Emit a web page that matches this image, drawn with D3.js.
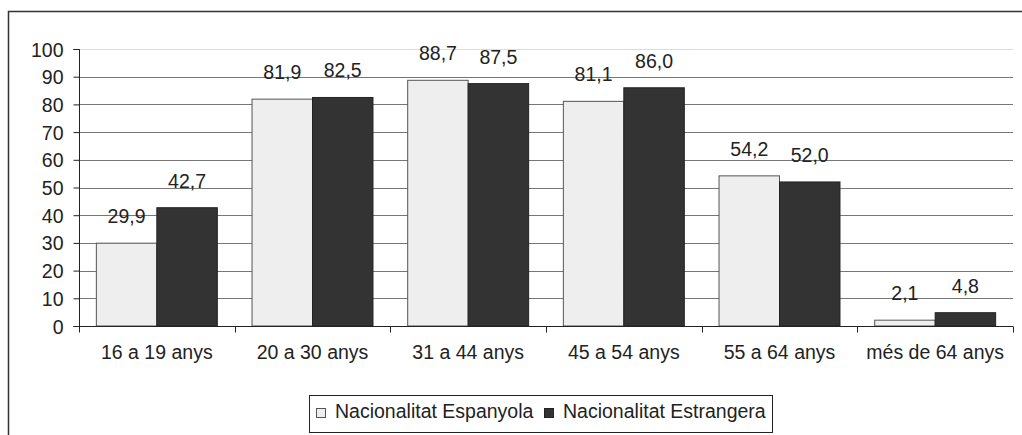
<!DOCTYPE html>
<html>
<head>
<meta charset="utf-8">
<script src="https://cdn.jsdelivr.net/npm/d3@7"></script>
<style>
html,body{margin:0;padding:0;background:#fff;}
svg{display:block;font-family:"Liberation Sans",Arial,sans-serif;}
</style>
</head>
<body>
<svg id="chart" width="1022" height="435"></svg>
<script>
const categories = ["16 a 19 anys","20 a 30 anys","31 a 44 anys","45 a 54 anys","55 a 64 anys","més de 64 anys"];
const seriesNames = ["Nacionalitat Espanyola","Nacionalitat Estrangera"];
const espanyola = [29.9, 81.9, 88.7, 81.1, 54.2, 2.1];
const estrangera = [42.7, 82.5, 87.5, 86.0, 52.0, 4.8];
const yTicks = [0,10,20,30,40,50,60,70,80,90,100];
const colors = ["#eeeeee","#333333"];
const strokes = ["#555555","#222222"];
const FS = 19.5;

const svg = d3.select("#chart");
const fmt = v => v.toFixed(1).replace(".", ",");

// outer frame (left and top only visible)
svg.append("path").attr("d","M8.5,440 V11.5 H1030")
  .attr("fill","none").attr("stroke","#333").attr("stroke-width",1.5);

const x0 = d3.scaleBand().domain(categories).range([79, 1013]).paddingInner(0).paddingOuter(0);
const y = d3.scaleLinear().domain([0,100]).range([326, 49]);
const x1 = d3.scaleBand().domain([0,1]).range([0, x0.bandwidth()]).paddingOuter(0.287).paddingInner(0);

// gridlines
svg.append("g").selectAll("line").data(yTicks.filter(t=>t>0)).join("line")
  .attr("x1",79).attr("x2",1013)
  .attr("y1",d=>Math.round(y(d))+0.5).attr("y2",d=>Math.round(y(d))+0.5)
  .attr("stroke",d=> d===100 ? "#dddddd" : "#777777").attr("stroke-width",1);

// bars
const data = categories.map((c,i)=>({c, vals:[espanyola[i], estrangera[i]]}));
const g = svg.append("g");
data.forEach(d=>{
  d.vals.forEach((v,s)=>{
    const bx = x0(d.c) + x1(s);
    g.append("rect")
      .attr("x", bx).attr("y", y(v))
      .attr("width", x1.bandwidth()).attr("height", y(0)-y(v))
      .attr("fill", colors[s]).attr("stroke", strokes[s]).attr("stroke-width",1);
    g.append("text")
      .attr("x", bx + x1.bandwidth()/2).attr("y", y(v) - 20)
      .attr("text-anchor","middle").attr("font-size",FS).attr("fill","#222")
      .text(fmt(v));
  });
});

// y axis
const yAxis = d3.axisLeft(y).tickValues(yTicks).tickSize(6).tickPadding(10);
const ya = svg.append("g").attr("transform","translate(79.5,0)").call(yAxis);
ya.select(".domain").attr("stroke","#222").attr("d","M-6,326.5H0V49.5H-6");
ya.selectAll(".tick line").attr("stroke","#222");
ya.selectAll(".tick text").attr("font-size",FS).attr("fill","#222")
  .attr("font-family","Liberation Sans, Arial, sans-serif").attr("dy","0.36em");

// x axis
const xa = svg.append("g").attr("transform","translate(0,326.5)");
xa.append("line").attr("x1",79).attr("x2",1013).attr("stroke","#222");
const bounds = categories.map(c=>x0(c)).concat([x0.range()[1]]);
xa.selectAll("line.t").data(bounds).join("line").attr("class","t")
  .attr("x1",d=>Math.round(d)+0.5).attr("x2",d=>Math.round(d)+0.5).attr("y1",0).attr("y2",6).attr("stroke","#222");
xa.selectAll("text").data(categories).join("text")
  .attr("x",d=>x0(d)+x0.bandwidth()/2).attr("y",32.5)
  .attr("text-anchor","middle").attr("font-size",FS).attr("fill","#222").text(d=>d);

// legend
const lg = svg.append("g");
lg.append("rect").attr("x",309.5).attr("y",395.5).attr("width",463).attr("height",37)
  .attr("fill","#fff").attr("stroke","#222");
const items = [{x:316, tx:335, name:seriesNames[0], s:0},{x:544, tx:563, name:seriesNames[1], s:1}];
items.forEach(it=>{
  lg.append("rect").attr("x",it.x+0.5).attr("y",408.5).attr("width",9).attr("height",9)
    .attr("fill",colors[it.s]).attr("stroke",strokes[it.s]);
  lg.append("text").attr("x",it.tx).attr("y",417.5).attr("font-size",FS).attr("fill","#222").text(it.name);
});
</script>
</body>
</html>
